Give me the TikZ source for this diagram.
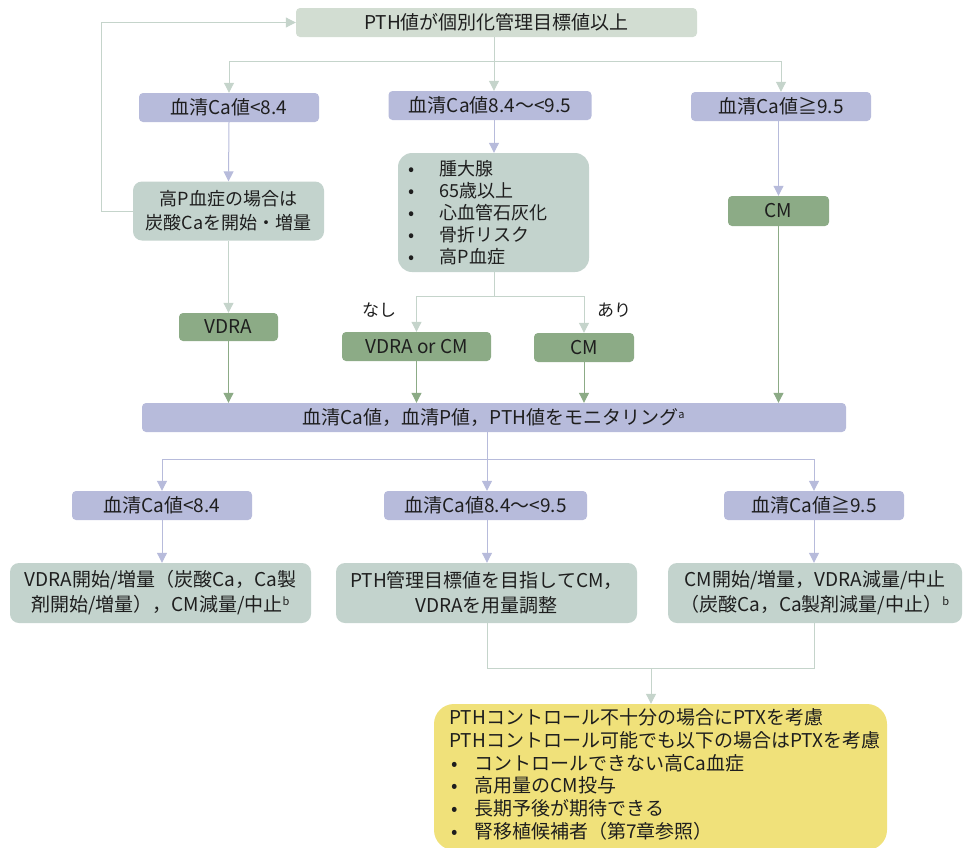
\documentclass[tikz,border=0pt]{standalone}
\usepackage{fontspec}
\setmainfont{Noto Sans CJK JP}
\newfontfamily\cjk{Noto Sans CJK JP}
\usetikzlibrary{arrows.meta}
\definecolor{topfill}{HTML}{D2DDD2}
\definecolor{lav}{HTML}{B7BBDB}
\definecolor{sage}{HTML}{C3D3CD}
\definecolor{grn}{HTML}{8CAB86}
\definecolor{yel}{HTML}{F0E17A}
\definecolor{txt}{HTML}{1E1E1E}
\definecolor{lgline}{HTML}{C5D4CB}
\definecolor{lavline}{HTML}{B7BBDB}
\definecolor{grnline}{HTML}{8CAB86}
\tikzset{
  base/.style={rectangle, inner sep=0pt, text=txt, align=center,
    font=\cjk\fontsize{19}{23}\selectfont},
  topbox/.style={base, fill=topfill, rounded corners=4pt, minimum width=401pt, minimum height=29pt},
  lavbox/.style={base, fill=lav, rounded corners=4pt, minimum height=29pt},
  sagebox/.style={base, fill=sage, rounded corners=9pt},
  grnbox/.style={base, fill=grn, rounded corners=4pt, minimum height=29pt},
  yelbox/.style={base, fill=yel, rounded corners=20pt,
    font=\cjk\fontsize{19}{22.6}\selectfont},
  lbl/.style={text=txt, font=\cjk\fontsize{17}{22}\selectfont, inner sep=0pt},
  tip/.style={-{Triangle[width=10pt,length=10pt]}},
  cl/.style={draw=lgline, line width=1pt},
  cv/.style={draw=lavline, line width=1pt},
  cg/.style={draw=grnline, line width=1pt},
}
\newcommand{\bul}{\makebox[36pt][l]{\hspace{4pt}•}}
\newcommand{\fbul}{\makebox[25pt][l]{\hspace{2pt}•}}
\newcommand{\supr}[1]{\textsuperscript{\fontsize{11}{11}\selectfont #1}}
\begin{document}
\begin{tikzpicture}[x=1pt,y=-1pt]
\useasboundingbox (0,0) rectangle (963,847);
\clip (0,0) rectangle (963,847);

% row 0
\node[topbox] (top) at (496.5,22.5) {PTH値が個別化管理目標値以上};
% row 1
\node[lavbox, minimum width=180pt] (L1) at (229,107.5) {血清Ca値<8.4};
\node[lavbox, minimum width=203pt] (M1) at (490,105.5) {血清Ca値8.4～<9.5};
\node[lavbox, minimum width=180pt] (R1) at (781,106.5) {血清Ca値≧9.5};
% row 2
\node[sagebox, minimum width=191pt, minimum height=59pt, font=\cjk\fontsize{18}{24}\selectfont] (L2) at (228.5,211) {高P血症の場合は\\炭酸Caを開始・増量};
\node[sagebox, rounded corners=14pt, minimum width=191pt, minimum height=119pt, text width=179pt, align=left, font=\cjk\fontsize{18}{22}\selectfont] (M2) at (493.5,212.5)
  {\bul 腫大腺\\\bul 65歳以上\\\bul 心血管石灰化\\\bul 骨折リスク\\\bul 高P血症};
\node[grnbox, minimum width=101pt, minimum height=30pt] (R2) at (778.5,211) {CM};
% row 3
\node[grnbox, minimum width=99pt, minimum height=28pt] (VD) at (228.5,327) {VDRA};
\node[grnbox, minimum width=149pt] (VC) at (416.5,346.5) {VDRA or CM};
\node[grnbox, minimum width=100pt] (CM2) at (584,347.5) {CM};
\node[lbl] (nashi) at (379,310) {なし};
\node[lbl] (ari) at (614,310) {あり};
% monitor
\node[lavbox, minimum width=704pt] (MON) at (494,417.5) {血清Ca値，血清P値，PTH値をモニタリング\supr{a}};
% row 4
\node[lavbox, minimum width=180pt] (L3) at (162,505.5) {血清Ca値<8.4};
\node[lavbox, minimum width=203pt] (M3) at (485.5,505.5) {血清Ca値8.4～<9.5};
\node[lavbox, minimum width=180pt] (R3) at (814,505.5) {血清Ca値≧9.5};
% row 5
\node[sagebox, minimum width=301pt, minimum height=60pt, font=\cjk\fontsize{19}{25}\selectfont] (L4) at (160.5,593) {VDRA開始/増量（炭酸Ca，Ca製\\剤開始/増量），CM減量/中止\supr{b}};
\node[sagebox, minimum width=301pt, minimum height=60pt, font=\cjk\fontsize{19}{25}\selectfont] (M4) at (486.5,593) {PTH管理目標値を目指してCM，\\VDRAを用量調整};
\node[sagebox, minimum width=294pt, minimum height=60pt, font=\cjk\fontsize{19}{25}\selectfont] (R4) at (815,593) {CM開始/増量，VDRA減量/中止\\（炭酸Ca，Ca製剤減量/中止）\supr{b}};
% final
\node[yelbox, minimum width=453pt, minimum height=146pt] (FIN) at (660.5,777)
  {\begin{tabular}{@{\hspace{9pt}}l@{}}
   PTHコントロール不十分の場合にPTXを考慮\\
   PTHコントロール可能でも以下の場合はPTXを考慮\\
   \fbul コントロールできない高Ca血症\\
   \fbul 高用量のCM投与\\
   \fbul 長期予後が期待できる\\
   \fbul 腎移植候補者（第7章参照）
   \end{tabular}};

% junction coordinates
\coordinate (j1) at (494,61);
\coordinate (j2) at (494,296);
\coordinate (j3) at (487,459);
\coordinate (j4) at (651,668);
\coordinate (fb) at (101,211);

% connectors from top
\draw[cl] (top.south -| j1) -- (j1);
\draw[cl] (j1 -| L1) -- (j1 -| R1);
\draw[cl,tip] (j1 -| L1) -- (L1.north);
\draw[cl,tip] (j1) -- (j1 |- M1.north);
\draw[cl,tip] (j1 -| R1) -- (R1.north);
% row1 -> row2
\draw[cv,tip] (L1.south) -- (L2.north);
\draw[cv,tip] (M1.south -| j1) -- (M2.north -| j1);
\draw[cv,tip] (R1.south -| R2) -- (R2.north);
% feedback
\draw[cl,tip] (L2.west) -- (fb) -- (fb |- top.west) -- (top.west);
% L2 -> VDRA
\draw[cl,tip] (L2.south) -- (VD.north);
% M2 split
\draw[cl] (M2.south -| j2) -- (j2);
\draw[cl] (j2 -| VC) -- (j2 -| CM2);
\draw[cl,tip] (j2 -| VC) -- (VC.north);
\draw[cl,tip] (j2 -| CM2) -- (CM2.north);
% to monitor
\draw[cg,tip] (VD.south) -- (MON.north -| VD);
\draw[cg,tip] (VC.south) -- (MON.north -| VC);
\draw[cg,tip] (CM2.south) -- (MON.north -| CM2);
\draw[cg,tip] (R2.south) -- (MON.north -| R2);
% monitor split
\draw[cv] (MON.south -| j3) -- (j3);
\draw[cv] (j3 -| L3) -- (j3 -| R3);
\draw[cv,tip] (j3 -| L3) -- (L3.north);
\draw[cv,tip] (j3) -- (j3 |- M3.north);
\draw[cv,tip] (j3 -| R3) -- (R3.north);
% row3 -> row4
\draw[cv,tip] (L3.south) -- (L4.north -| L3);
\draw[cv,tip] (M3.south -| j3) -- (M4.north -| j3);
\draw[cv,tip] (R3.south) -- (R4.north -| R3);
% merge
\draw[cl] (M4.south -| j3) -- (j4 -| j3) -- (j4 -| R3) -- (R4.south -| R3);
\draw[cl,tip] (j4) -- (FIN.north -| j4);
\end{tikzpicture}
\end{document}
